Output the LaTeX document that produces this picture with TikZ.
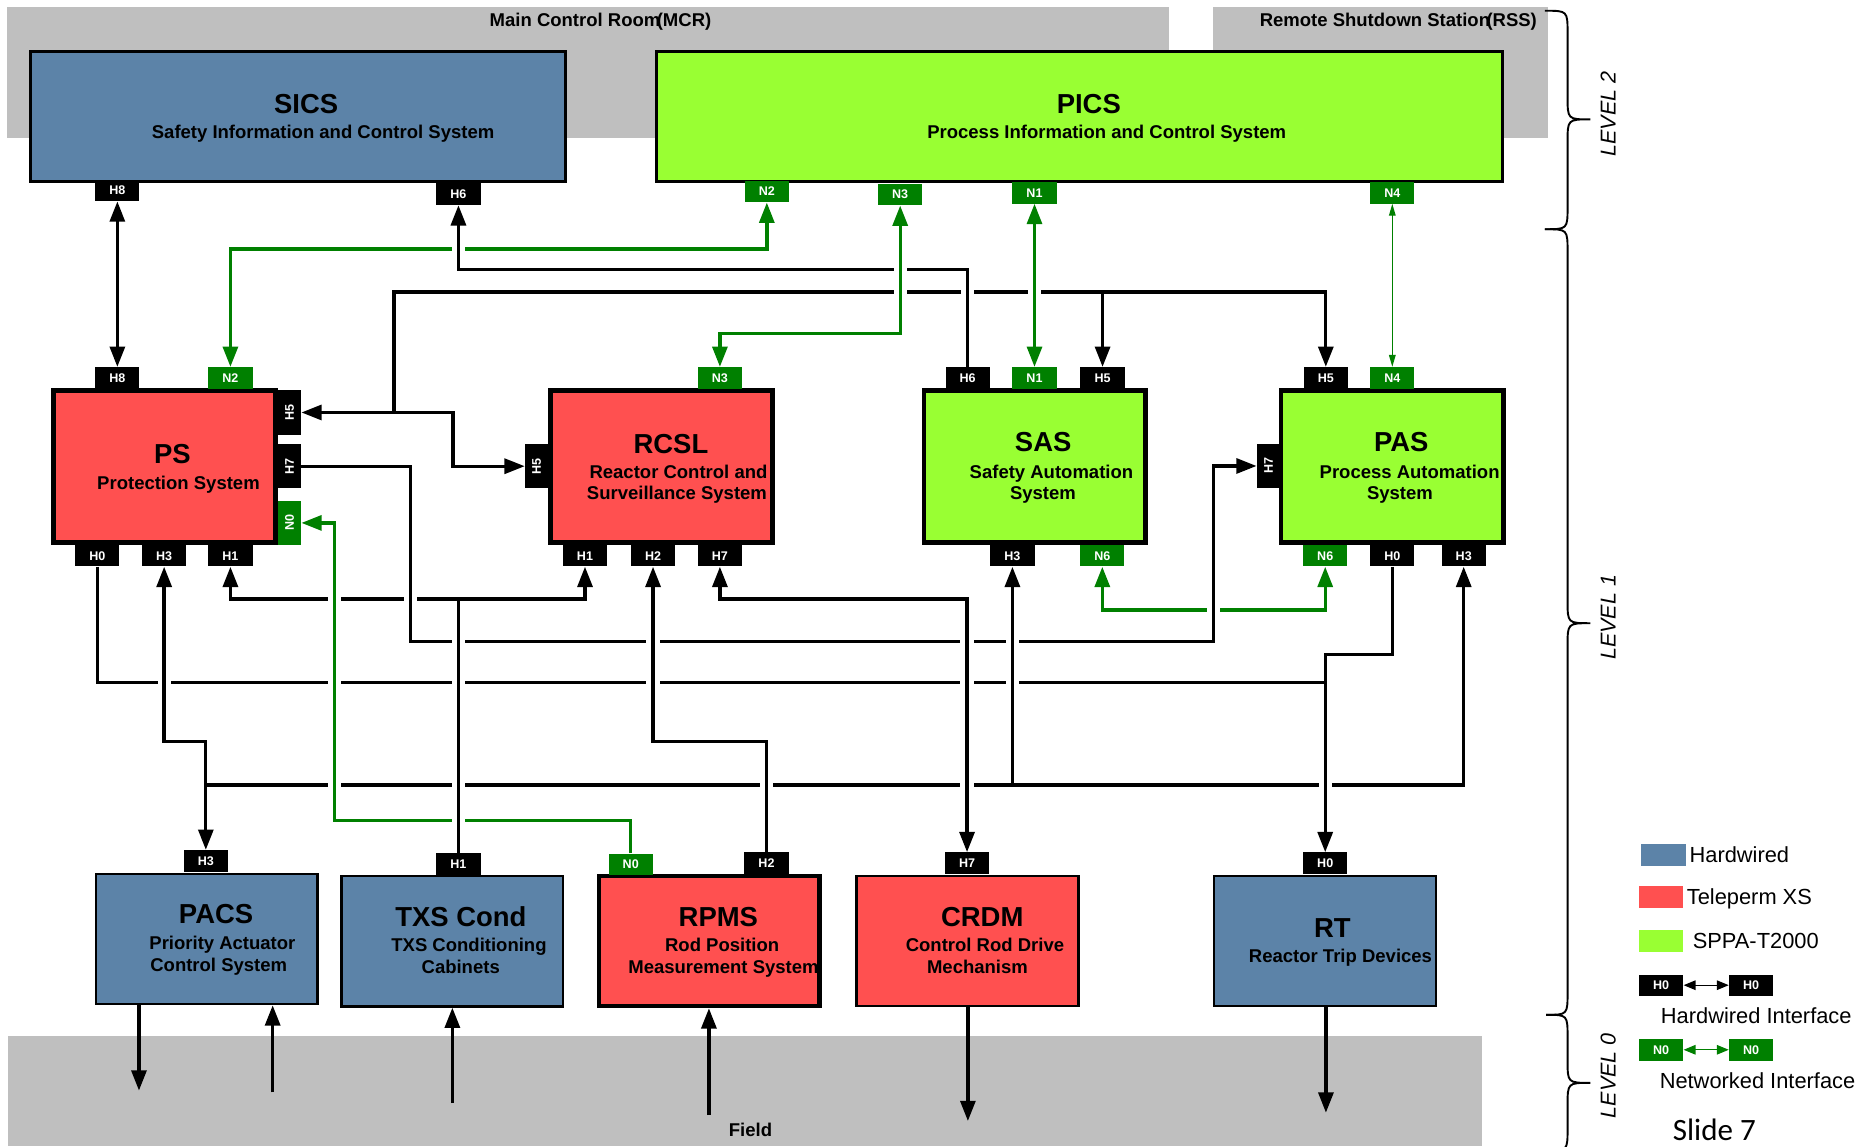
\documentclass[tikz,border=0pt]{standalone}
\usepackage{fontspec}
\setmainfont{Liberation Sans}
\newfontfamily\slidefont{Carlito}
\usepackage{graphicx}
\usetikzlibrary{arrows.meta,calc}

\definecolor{hwblue}{RGB}{92,131,168}
\definecolor{txsred}{RGB}{255,80,80}
\definecolor{sppagreen}{RGB}{153,255,51}
\definecolor{netgreen}{RGB}{0,128,0}
\definecolor{zonegrey}{RGB}{191,191,191}

\newcommand\setfs[1]{\fontsize{#1}{#1}\selectfont}

% white gap in a line where another line passes over it
\newcommand\linehop[3]{%
  \fill[white] ($(#2 |- #3)+(-5.5,-2.6)$) rectangle ($(#2 |- #3)+(5.5,2.6)$);
  \draw[#1] ($(#2 |- #3)+(0,-3.8)$) -- ($(#2 |- #3)+(0,3.8)$);}

\tikzset{
  sysbox/.style={draw=black, line width=2pt, inner sep=0pt},
  heavybox/.style={sysbox, line width=3.8pt},
  port/.style={fill=black, text=white, inner sep=0pt, minimum width=37pt,
    minimum height=18pt, font=\bfseries\setfs{10.5}},
  nport/.style={port, fill=netgreen},
  vport/.style={port, minimum width=19.5pt, minimum height=37pt},
  vnport/.style={vport, fill=netgreen},
  ttl/.style={anchor=base, font=\bfseries\setfs{23}, inner sep=0pt},
  sub/.style={anchor=base, font=\bfseries\setfs{15.5}, inner sep=0pt},
  zonelbl/.style={anchor=base west, font=\bfseries\setfs{15.5}, inner sep=0pt},
  lgtext/.style={anchor=base west, font=\setfs{18.3}, inner sep=0pt},
  lvl/.style={font=\itshape\setfs{18}, inner sep=0pt, rotate=90},
  hw/.style={draw=black, line width=2.8pt},
  nw/.style={draw=netgreen, line width=2.8pt},
  nwthin/.style={draw=netgreen, line width=1.1pt},
  brace/.style={draw=black, line width=1.6pt},
  >={Triangle[length=17pt,width=12.5pt]},
}

\begin{document}
\begin{tikzpicture}[x=1pt,y=-1pt]
\clip (0,0) rectangle (1568,960);
\fill[white] (0,0) rectangle (1568,960);

% ---------- zones ----------
\fill[zonegrey] (5.6,5.6) rectangle (979,115.8);
\fill[zonegrey] (1015.6,5.6) rectangle (1297,115.8);
\fill[zonegrey] (6.7,867.7) rectangle (1241.5,960);
\node[zonelbl] (mcr) at (410,22.3) {Main Control Room\kern-3pt(MCR)};
\node[zonelbl] (rss) at (1055,22.3) {Remote Shutdown Station\kern-3pt(RSS)};
\node[anchor=base, font=\bfseries\setfs{15.5}, inner sep=0pt] (field) at (628.6,952) {Field};

% ---------- level 2 ----------
\node[sysbox, line width=2.5pt, fill=hwblue, minimum width=447.5pt, minimum height=108.5pt] (sics) at (249.5,97.5) {};
\node[ttl] (sicsT) at (256.4,95) {SICS};
\node[sub] (sicsS) at (270.6,115.9) {Safety Information and Control System};
\node[sysbox, line width=2.5pt, fill=sppagreen, minimum width=708.5pt, minimum height=108.5pt] (pics) at (904,97.5) {};
\node[ttl] (picsT) at (912,95) {PICS};
\node[sub] (picsS) at (927,115.9) {Process Information and Control System};

\node[port] (sicsH8) at (98.3,159.5) {H8};
\node[port] (sicsH6) at (384,162.7) {H6};
\node[nport] (picsN2) at (642.3,160.5) {N2};
\node[nport] (picsN3) at (754,163) {N3};
\node[nport] (picsN1) at (866.5,161.5) {N1};
\node[nport] (picsN4) at (1166.2,161.5) {N4};

% ---------- level 1 ----------
\node[heavybox, fill=txsred, minimum width=185.7pt, minimum height=127.7pt] (ps) at (137.75,390.75) {};
\node[ttl] (psT) at (144.4,388) {PS};
\node[sub] (psS) at (149.5,409.8) {Protection System};

\node[heavybox, fill=txsred, minimum width=186.2pt, minimum height=127.7pt] (rc) at (554,390.75) {};
\node[ttl] (rcT) at (562,379.7) {RCSL};
\node[sub] (rcS1) at (568.3,400.6) {Reactor Control and};
\node[sub] (rcS2) at (567,418.8) {Surveillance System};

\node[heavybox, fill=sppagreen, minimum width=185.7pt, minimum height=127.7pt] (sas) at (866.75,390.75) {};
\node[ttl] (sasT) at (873.8,378.3) {SAS};
\node[sub] (sasS1) at (880.7,400.6) {Safety Automation};
\node[sub] (sasS2) at (873.6,418.8) {System};

\node[heavybox, fill=sppagreen, minimum width=186.2pt, minimum height=127.7pt] (pas) at (1166,390.75) {};
\node[ttl] (pasT) at (1173.7,378.3) {PAS};
\node[sub] (pasS1) at (1180.7,400.6) {Process Automation};
\node[sub] (pasS2) at (1172.6,418.8) {System};

% ports of level 1
\node[port] (psH8) at (98.3,316.5) {H8};
\node[nport] (psN2) at (193,316.5) {N2};
\node[vport] (psH5) at (242.5,345.5) {\rotatebox{90}{H5}};
\node[vport] (psH7) at (242.5,390.5) {\rotatebox{90}{H7}};
\node[vnport] (psN0) at (242.5,438) {\rotatebox{90}{N0}};
\node[port] (psH0) at (81.5,465.5) {H0};
\node[port] (psH3) at (137.5,465.5) {H3};
\node[port] (psH1) at (193,465.5) {H1};

\node[nport] (rcN3) at (603,316.5) {N3};
\node[vport] (rcH5) at (449.5,390.5) {\rotatebox{90}{H5}};
\node[port] (rcH1) at (490,465.5) {H1};
\node[port] (rcH2) at (547,465.5) {H2};
\node[port] (rcH7) at (603,465.5) {H7};

\node[port] (sasH6) at (810.5,316.5) {H6};
\node[nport] (sasN1) at (866.5,316.5) {N1};
\node[port] (sasH5) at (923.5,316.5) {H5};
\node[port] (sasH3) at (848,465.5) {H3};
\node[nport] (sasN6) at (923.3,465.5) {N6};

\node[port] (pasH5) at (1110.5,316.5) {H5};
\node[nport] (pasN4) at (1166.2,316.5) {N4};
\node[vport] (pasH7) at (1062.5,390.3) {\rotatebox{90}{H7}};
\node[nport] (pasN6) at (1110,465.5) {N6};
\node[port] (pasH0) at (1166.2,465.5) {H0};
\node[port] (pasH3) at (1226,465.5) {H3};

% ---------- level 0 ----------
\node[sysbox, fill=hwblue, minimum width=185.5pt, minimum height=109pt] (pacs) at (173.25,786.5) {};
\node[ttl] (pacsT) at (181,773.3) {PACS};
\node[sub] (pacsS1) at (186.3,795.7) {Priority Actuator};
\node[sub] (pacsS2) at (183.2,813.8) {Control System};

\node[sysbox, fill=hwblue, minimum width=185.5pt, minimum height=109.5pt] (txs) at (378.75,788.25) {};
\node[ttl] (txsT) at (386,776) {TXS Cond};
\node[sub] (txsS1) at (392.8,797) {TXS Conditioning};
\node[sub] (txsS2) at (385.9,815) {Cabinets};

\node[heavybox, fill=txsred, minimum width=184.7pt, minimum height=108.7pt] (rpms) at (594.25,788.25) {};
\node[ttl] (rpmsT) at (601.7,776) {RPMS};
\node[sub] (rpmsS1) at (604.9,797) {Rod Position};
\node[sub] (rpmsS2) at (606,815) {Measurement System};

\node[sysbox, fill=txsred, minimum width=186pt, minimum height=109pt] (crdm) at (810.5,788) {};
\node[ttl] (crdmT) at (822.7,776) {CRDM};
\node[sub] (crdmS1) at (825,797) {Control Rod Drive};
\node[sub] (crdmS2) at (818.7,815) {Mechanism};

\node[sysbox, fill=hwblue, minimum width=186pt, minimum height=109pt] (rt) at (1110,788) {};
\node[ttl] (rtT) at (1116,785) {RT};
\node[sub] (rtS) at (1122.8,806.3) {Reactor Trip Devices};

\node[port] (pacsH3) at (172.4,721) {H3};
\node[port] (txsH1) at (384,723.5) {H1};
\node[nport] (rpN0) at (528.3,724) {N0};
\node[port] (rpH2) at (642,723) {H2};
\node[port] (crH7) at (810,723) {H7};
\node[port] (rtH0) at (1110,723) {H0};

% ---------- routing levels ----------
\coordinate (yA) at (0,208.5);
\coordinate (yB) at (0,226);
\coordinate (yC) at (0,244.5);
\coordinate (yD) at (0,279.2);
\coordinate (yF) at (0,501.7);
\coordinate (yG) at (0,511);
\coordinate (yH) at (0,537.4);
\coordinate (yPA) at (0,548);
\coordinate (yI) at (0,571.8);
\coordinate (yJ) at (0,621);
\coordinate (yK) at (0,657.5);
\coordinate (yL) at (0,687.4);
\coordinate (xR) at (379.5,0);
\coordinate (xM) at (344,0);
\coordinate (xP) at (1016.6,0);
\coordinate (xN0) at (280,0);
\coordinate (jE) at (330,345.5);

% ---------- connectors ----------
\draw[hw,<->] (sicsH8.south) -- (psH8.north);
\draw[nw,<->] (picsN2.south) |- (psN2 |- yA) -- (psN2.north);
\draw[hw,->] (sasH6.north) |- (sicsH6 |- yB) -- (sicsH6.south);
\draw[nw,<->] (picsN3.south) |- (rcN3 |- yD) -- (rcN3.north);
\draw[nw,<->] (picsN1.south) -- (sasN1.north);
\draw[nwthin,{Triangle[length=10pt,width=5.5pt]}-{Triangle[length=10pt,width=5.5pt]}] (picsN4.south) -- (pasN4.north);

% H5 distribution
\draw[hw,->] (jE) -- (psH5.east);
\draw[hw,->] (jE) -- (xR |- jE) |- (rcH5.west);
\draw[hw,->] (jE) |- (pasH5 |- yC) -- (pasH5.north);
\draw[hw,->] (sasH5 |- yC) -- (sasH5.north);

% PS H7 to PAS H7
\draw[hw,->] (psH7.east) -| (xM |- yH) -| (xP |- pasH7) -- (pasH7.west);

% TXS conditioning to PS and RCSL
\coordinate (jF) at (txsH1 |- yF);
\draw[hw] (txsH1.north) -- (jF);
\draw[hw,->] (jF) -| (psH1.south);
\draw[hw,->] (jF) -| (rcH1.south);

% reactor trip
\draw[hw,->] (psH0.south) |- (rtH0 |- yI) -- (rtH0.north);
\draw[hw] (pasH0.south) |- (rtH0 |- yPA) -- (rtH0 |- yI);

% rod position, rod drive
\draw[hw,->] (rpH2.north) |- (rcH2 |- yJ) -- (rcH2.south);
\draw[hw,<->] (rcH7.south) |- (crH7 |- yF) -- (crH7.north);

% H3 bus
\draw[hw,<->] (psH3.south) |- (pacsH3 |- yJ) -- (pacsH3.north);
\draw[hw,->] (pacsH3 |- yK) -| (pasH3.south);
\draw[hw,->] (sasH3 |- yK) -- (sasH3.south);

% networks
\draw[nw,->] (rpN0.north) |- (xN0 |- yL) |- (psN0.east);
\draw[nw,<->] (sasN6.south) |- (pasN6 |- yG) -- (pasN6.south);

% field signals
\coordinate (fA) at (116.4,913.5);
\coordinate (fB) at (228.4,915);
\coordinate (fC) at (378.9,924);
\coordinate (fD) at (593.8,934);
\coordinate (fE) at (810.7,939);
\coordinate (fF) at (1110.6,932);
\draw[hw,->] (fA |- pacs.south) -- (fA);
\draw[hw,->] (fB) -- (fB |- pacs.south);
\draw[hw,->] (fC) -- (fC |- txs.south);
\draw[hw,->] (fD) -- (fD |- rpms.south);
\draw[hw,->] (fE |- crdm.south) -- (fE);
\draw[hw,->] (fF |- rt.south) -- (fF);

% ---------- line crossings ----------
\linehop{hw}{sicsH6}{yA}
\linehop{nw}{picsN3}{yB}
\linehop{nw}{picsN3}{yC}
\linehop{hw}{sasH6}{yC}
\linehop{nw}{picsN1}{yC}
\linehop{hw}{xM}{yF}
\linehop{nw}{xN0}{yF}
\linehop{hw}{txsH1}{yH}
\linehop{hw}{rcH2}{yH}
\linehop{hw}{crH7}{yH}
\linehop{hw}{sasH3}{yH}
\linehop{hw}{xP}{yG}
\linehop{hw}{psH3}{yI}
\linehop{nw}{xN0}{yI}
\linehop{hw}{txsH1}{yI}
\linehop{hw}{rcH2}{yI}
\linehop{hw}{crH7}{yI}
\linehop{hw}{sasH3}{yI}
\linehop{nw}{xN0}{yK}
\linehop{hw}{txsH1}{yK}
\linehop{hw}{rpH2}{yK}
\linehop{hw}{crH7}{yK}
\linehop{hw}{rtH0}{yK}
\linehop{hw}{txsH1}{yL}

% ---------- level braces ----------
\draw[brace] (1294,9) .. controls (1313,9) .. (1313,28) -- (1313,81)
  .. controls (1313,100) .. (1332,100) .. controls (1313,100) .. (1313,119)
  -- (1313,173) .. controls (1313,192) .. (1294,192);
\draw[brace] (1294,192) .. controls (1313,192) .. (1313,211) -- (1313,503)
  .. controls (1313,522) .. (1332,522) .. controls (1313,522) .. (1313,541)
  -- (1313,831) .. controls (1313,850) .. (1295,850);
\draw[brace] (1295,850) .. controls (1313,850) .. (1313,869) -- (1313,888)
  .. controls (1313,907) .. (1332,907) .. controls (1313,907) .. (1313,926)
  -- (1313,945) .. controls (1313,964) .. (1295,964);
\node[lvl] (lv2) at (1347,95.5) {LEVEL 2};
\node[lvl] (lv1) at (1347,517) {LEVEL 1};
\node[lvl] (lv0) at (1347,901) {LEVEL 0};

% ---------- legend ----------
\node[fill=hwblue, inner sep=0pt, minimum width=37.5pt, minimum height=18pt] (lgBlue) at (1393.25,716) {};
\node[lgtext] (lgBlueT) at (1415,722.5) {Hardwired};
\node[fill=txsred, inner sep=0pt, minimum width=37.2pt, minimum height=18.5pt] (lgRed) at (1391.4,751.25) {};
\node[lgtext] (lgRedT) at (1412.7,757.7) {Teleperm XS};
\node[fill=sppagreen, inner sep=0pt, minimum width=37.2pt, minimum height=18.4pt] (lgGreen) at (1391.4,788.2) {};
\node[lgtext] (lgGreenT) at (1417.7,794.3) {SPPA-T2000};
\node[port, minimum width=37.2pt, minimum height=17.6pt] (lgH0a) at (1391.4,825.2) {H0};
\node[port, minimum width=37.2pt, minimum height=17.6pt] (lgH0b) at (1466.8,825.2) {H0};
\draw[black, line width=1pt, {Triangle[length=10pt,width=8pt]}-{Triangle[length=10pt,width=8pt]}] (lgH0a.east) -- (lgH0b.west);
\node[lgtext] (lgHwT) at (1391,857) {Hardwired Interface};
\node[nport, minimum width=37.2pt, minimum height=18.5pt] (lgN0a) at (1391.4,879.3) {N0};
\node[nport, minimum width=37.2pt, minimum height=18.5pt] (lgN0b) at (1466.8,879.3) {N0};
\draw[netgreen, line width=1pt, {Triangle[length=10pt,width=8pt]}-{Triangle[length=10pt,width=8pt]}] (lgN0a.east) -- (lgN0b.west);
\node[lgtext] (lgNwT) at (1390,912) {Networked Interface};
\node[anchor=base west, font=\slidefont\setfs{26}, inner sep=0pt] (slide) at (1401,955) {Slide 7};
\end{tikzpicture}
\end{document}
